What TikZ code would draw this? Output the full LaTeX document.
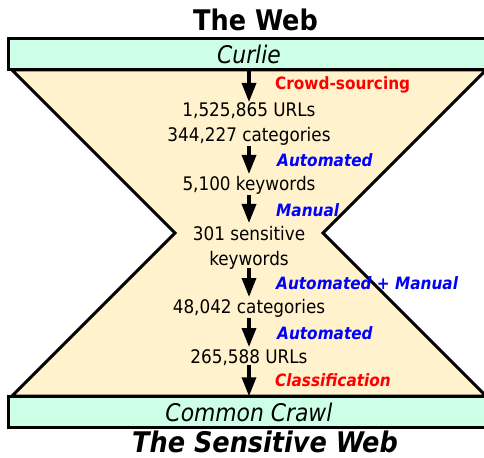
\documentclass[tikz,border=0pt]{standalone}
\usepackage{fontspec}
\setmainfont{DejaVu Sans Condensed}
\usetikzlibrary{arrows.meta}
\definecolor{barfill}{HTML}{CCFFE6}
\definecolor{glassfill}{HTML}{FFF2CC}
\definecolor{lblred}{HTML}{FF0000}
\definecolor{lblblue}{HTML}{0000FF}
\tikzset{
  bar/.style={draw=black, fill=barfill, line width=3bp, minimum width=480bp, minimum height=31.5bp, inner sep=0pt, font=\fontsize{24.3bp}{28bp}\selectfont\itshape},
  glass/.style={draw=black, fill=glassfill, line width=3bp, line join=miter},
  txt/.style={anchor=base, inner sep=0pt, font=\fontsize{18.7bp}{22bp}\selectfont},
  lblr/.style={anchor=base west, inner sep=0pt, text=lblred, font=\fontsize{17bp}{20bp}\selectfont\bfseries},
  lblri/.style={lblr, font=\fontsize{17bp}{20bp}\selectfont\bfseries\itshape},
  lblb/.style={anchor=base west, inner sep=0pt, text=lblblue, font=\fontsize{17bp}{20bp}\selectfont\bfseries\itshape},
  ttl/.style={anchor=base, inner sep=0pt, font=\fontsize{28.4bp}{32bp}\selectfont\bfseries},
  arr/.style={-{Triangle[width=14bp,length=19bp]}, line width=3.4bp, black},
}
\begin{document}
\begin{tikzpicture}[x=1bp, y=-1bp]
\useasboundingbox (0,0) rectangle (484,458);
\clip (0,0) rectangle (484,458);
\fill[white] (0,0) rectangle (484,458);
% hourglass
\path[glass] (12,70) -- (175,233) -- (12,396) -- (486,396) -- (323,233) -- (486,70) -- cycle;
% bars
\node[bar] (curlie) at (249,54.25) {Curlie};
\node[bar] (cc) at (249,412) {Common Crawl};
% titles
\node[ttl] (web) at (255.5,31) {The Web};
\node[ttl, font=\fontsize{28.4bp}{32bp}\selectfont\bfseries\itshape] (sweb) at (265,452) {The Sensitive Web};
% texts
\node[txt] (t1a) at (249,117) {1,525,865 URLs};
\node[txt] (t1b) at (249,141.5) {344,227 categories};
\node[txt] (t2) at (249,191) {5,100 keywords};
\node[txt] (t3a) at (249,241) {301 sensitive};
\node[txt] (t3b) at (249,265) {keywords};
\node[txt] (t4) at (249,313) {48,042 categories};
\node[txt] (t5) at (249,363) {265,588 URLs};
% arrow end points
\coordinate (a1e) at (249,102);
\coordinate (a2s) at (249,146.5);
\coordinate (a2e) at (249,174);
\coordinate (a3s) at (249,195);
\coordinate (a3e) at (249,223);
\coordinate (a4s) at (249,268);
\coordinate (a4e) at (249,297);
\coordinate (a5s) at (249,318);
\coordinate (a5e) at (249,347);
\coordinate (a6s) at (249,365);
\draw[arr] (curlie.south) -- (a1e);
\draw[arr] (a2s) -- (a2e);
\draw[arr] (a3s) -- (a3e);
\draw[arr] (a4s) -- (a4e);
\draw[arr] (a5s) -- (a5e);
\draw[arr] (a6s) -- ([yshift=-1.5bp]cc.north);
% labels
\node[lblr] (l1) at (275,89.5) {Crowd-sourcing};
\node[lblb] (l2) at (277,167) {Automated};
\node[lblb] (l3) at (276,217) {Manual};
\node[lblb] (l4) at (276,289) {Automated + Manual};
\node[lblb] (l5) at (277,339) {Automated};
\node[lblri] (l6) at (275,386.5) {Classification};
\end{tikzpicture}
\end{document}
